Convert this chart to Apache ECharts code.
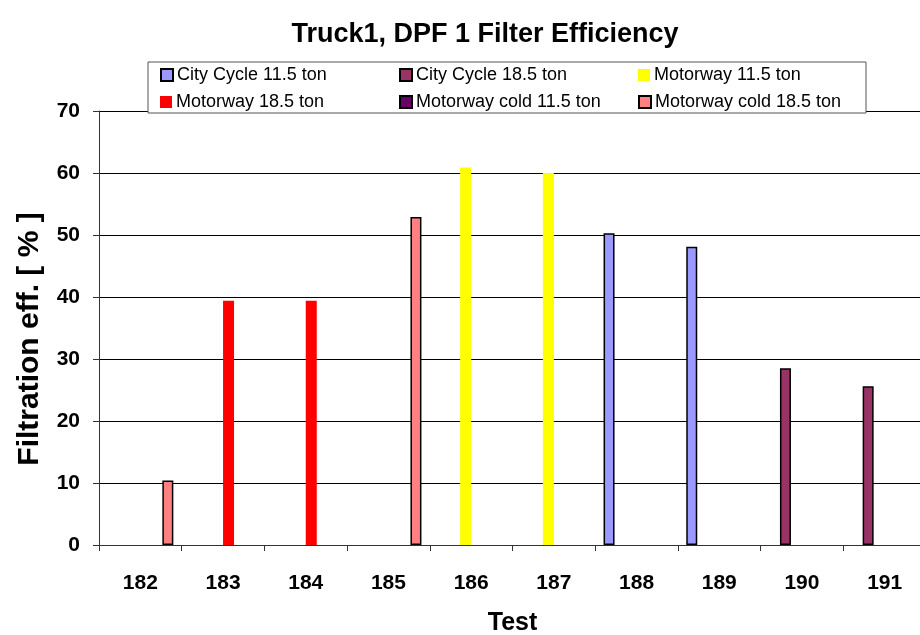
<!DOCTYPE html>
<html>
<head>
<meta charset="utf-8">
<title>Truck1, DPF 1 Filter Efficiency</title>
<script src="https://cdn.jsdelivr.net/npm/echarts@6/dist/echarts.min.js"></script>
<style>
  html, body { margin: 0; padding: 0; background: #fff; }
  #chart { width: 920px; height: 635px; }
</style>
</head>
<body>
<div id="chart"></div>
<script>
// categories (test numbers)
var tests = ['182', '183', '184', '185', '186', '187', '188', '189', '190', '191']

// filtration efficiency [%] per series, one slot per test
var cityCycle115    = [null, null, null, null, null, null, 50.3, 48.1, null, null]
var cityCycle185    = [null, null, null, null, null, null, null, null, 28.5, 25.6]
var motorway115     = [null, null, null, null, 60.9, 60.0, null, null, null, null]
var motorway185     = [null, 39.4, 39.4, null, null, null, null, null, null, null]
var motorwayCold115 = [null, null, null, null, null, null, null, null, null, null]
var motorwayCold185 = [10.4, null, null, 52.9, null, null, null, null, null, null]

var seriesNames = ['City Cycle 11.5 ton', 'City Cycle 18.5 ton', 'Motorway 11.5 ton',
  'Motorway 18.5 ton', 'Motorway cold 11.5 ton', 'Motorway cold 18.5 ton']
var seriesValues = [cityCycle115, cityCycle185, motorway115, motorway185, motorwayCold115, motorwayCold185]
var seriesColors = ['#9999FF', '#993366', '#FFFF00', '#FF0000', '#660066', '#FF8080']
var seriesBorder = [true, true, false, false, true, true]

var yTicks = { min: 0, max: 70, interval: 10 }

var font = 'Liberation Sans, Arial, sans-serif'

var obj = {

  buildSeries: function () {
    var list = []
    for (var i = 0; i < seriesNames.length; i++) {
      list.push({
        name: seriesNames[i],
        type: 'bar',
        data: seriesValues[i],
        barWidth: 11,
        barGap: '0%',
        itemStyle: {
          color: seriesColors[i],
          borderColor: '#000',
          borderWidth: seriesBorder[i] ? 1.5 : 0
        }
      })
    }
    return list
  },

  // one legend per entry so they line up in columns like the original
  buildLegends: function () {
    var cols = [160, 399, 638]
    var rows = [66, 93]
    var list = []
    for (var i = 0; i < seriesNames.length; i++) {
      list.push({
        z: 10,
        data: [seriesNames[i]],
        left: cols[i % 3],
        top: rows[Math.floor(i / 3)],
        itemWidth: 12,
        itemHeight: 12,
        itemGap: 0,
        padding: 0,
        selectedMode: false,
        icon: 'rect',
        textStyle: { fontFamily: font, fontSize: 18, color: '#000', padding: [0, 0, 0, -1] }
      })
    }
    return list
  },

  initChart: function () {
    var myChart = echarts.init(document.getElementById('chart'))
    var option = {
      animation: false,
      backgroundColor: '#fff',
      title: {
        text: 'Truck1, DPF 1 Filter Efficiency',
        left: 480,
        top: 16,
        textAlign: 'center',
        textStyle: { fontFamily: font, fontSize: 27, fontWeight: 'bold', color: '#000' }
      },
      graphic: [{
        type: 'rect',
        z: 1,
        shape: { x: 148, y: 62, width: 718, height: 51 },
        style: { fill: '#fff', stroke: '#555', lineWidth: 1 }
      }],
      legend: this.buildLegends(),
      grid: { left: 99, right: -6, top: 111, bottom: 90, containLabel: false, outerBoundsMode: 'none' },
      xAxis: {
        type: 'category',
        data: tests,
        name: 'Test',
        nameLocation: 'middle',
        nameGap: 66,
        nameTextStyle: { fontFamily: font, fontSize: 25, fontWeight: 'bold', color: '#000' },
        axisLine: { lineStyle: { color: '#333', width: 1 } },
        axisTick: { show: true, length: 6, lineStyle: { color: '#333' } },
        axisLabel: { margin: 28, fontFamily: font, fontSize: 21, fontWeight: 'bold', color: '#000' }
      },
      yAxis: {
        type: 'value',
        min: yTicks.min,
        max: yTicks.max,
        interval: yTicks.interval,
        name: 'Filtration eff. [ % ]',
        nameLocation: 'middle',
        nameGap: 54,
        nameTextStyle: { fontFamily: font, fontSize: 30, fontWeight: 'bold', color: '#000', padding: [0, 22, 0, 0] },
        axisLine: { show: true, lineStyle: { color: '#333', width: 1 } },
        axisTick: { show: true, length: 6, lineStyle: { color: '#333' } },
        axisLabel: { margin: 19, fontFamily: font, fontSize: 21, fontWeight: 'bold', color: '#000' },
        splitLine: { show: true, lineStyle: { color: '#000', width: 1 } }
      },
      series: this.buildSeries()
    }
    myChart.setOption(option, true)
  },

  init: function () {
    this.initChart()
  }
}

obj.init()
</script>
</body>
</html>
